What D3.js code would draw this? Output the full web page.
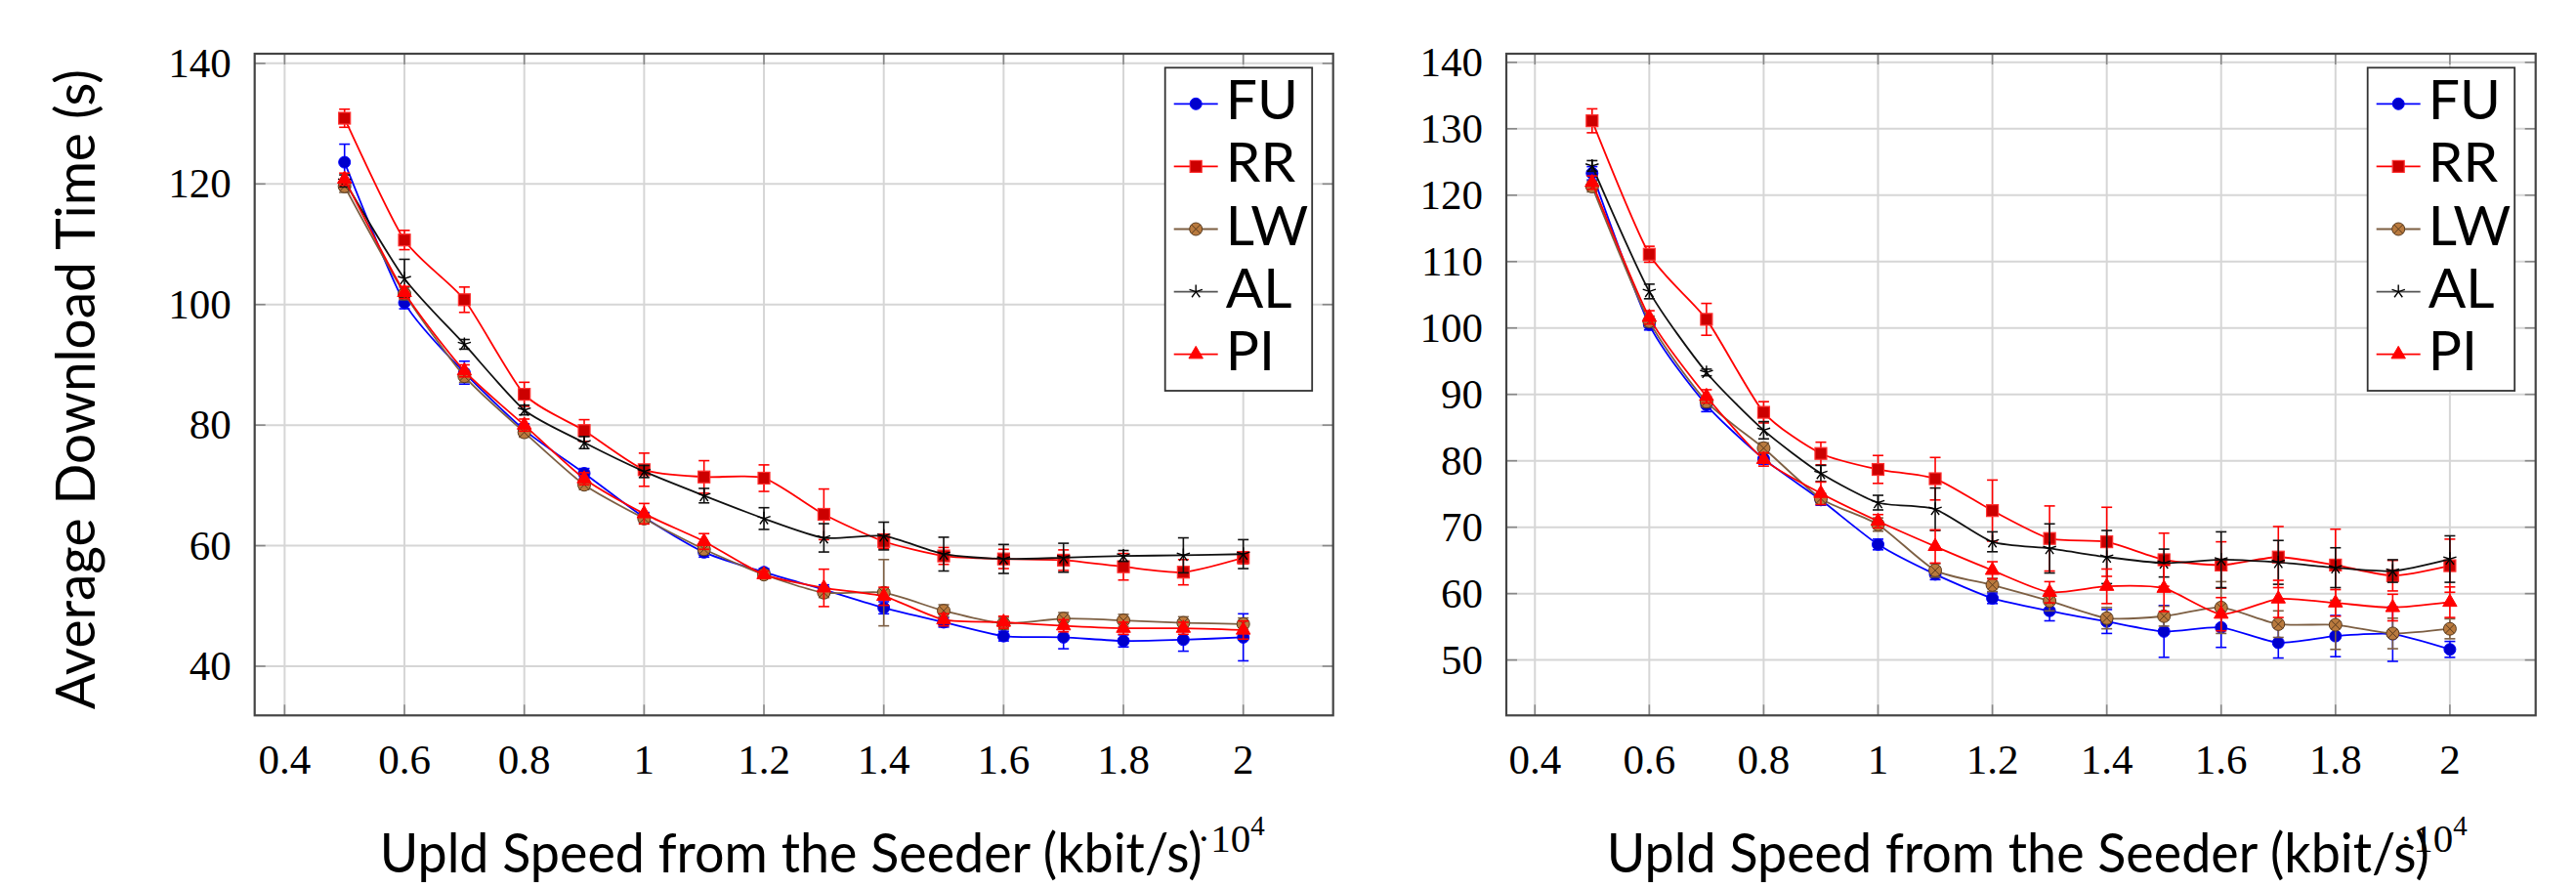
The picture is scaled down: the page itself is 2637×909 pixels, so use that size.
<!DOCTYPE html>
<html>
<head>
<meta charset="utf-8">
<script src="https://cdn.jsdelivr.net/npm/d3@7"></script>
<style>
  body { margin: 0; background: #fff; }
  svg { display: block; }
</style>
</head>
<body>
<svg id="chart" width="2637" height="909"></svg>
<script>
// upload speeds, x 10^4 kbit/s
const speeds = [0.5, 0.6, 0.7, 0.8, 0.9, 1.0, 1.1, 1.2, 1.3, 1.4, 1.5, 1.6, 1.7, 1.8, 1.9, 2.0];
const xTicks = [0.4, 0.6, 0.8, 1.0, 1.2, 1.4, 1.6, 1.8, 2.0];
const xTickLabels = ["0.4", "0.6", "0.8", "1", "1.2", "1.4", "1.6", "1.8", "2"];
const seriesNames = ["FU", "RR", "LW", "AL", "PI"];

// left panel
const leftTicks = [40, 60, 80, 100, 120, 140];
const leftFU = [123.6, 100.3, 88.7, 79.2, 72.0, 64.7, 58.9, 55.6, 52.7, 49.7, 47.3, 45.0, 44.8, 44.2, 44.4, 44.8];
const leftFUerr = [3, 1, 1.9, 1, 0.8, 0.8, 0.8, 0.6, 0.8, 1, 0.8, 0.8, 1.9, 1, 1.9, 3.9];
const leftRR = [130.9, 110.7, 100.8, 85.1, 79.1, 72.6, 71.4, 71.2, 65.2, 60.7, 58.3, 57.8, 57.6, 56.5, 55.6, 58.0];
const leftRRerr = [1.5, 1.6, 2.1, 2, 1.8, 2.75, 2.7, 2.2, 4.2, 1.2, 1.4, 1.6, 1.7, 2.2, 2.1, 1.0];
const leftLW = [119.6, 101.8, 88.1, 78.8, 70.1, 64.5, 59.4, 55.2, 52.2, 52.2, 49.2, 47.1, 47.9, 47.6, 47.2, 47.0];
const leftLWerr = [1, 1, 1, 0.8, 0.8, 0.8, 0.8, 0.6, 0.8, 5.5, 1, 1, 1, 1, 1, 1];
const leftAL = [120.5, 104.3, 93.4, 82.5, 77.1, 72.3, 68.3, 64.5, 61.3, 61.6, 58.6, 57.8, 58.0, 58.3, 58.4, 58.6];
const leftALerr = [1, 3.2, 0.8, 0.8, 1, 1, 1.2, 1.8, 2.35, 2.3, 2.8, 2.4, 2.4, 0.9, 2.9, 2.4];
const leftPI = [120.8, 102.0, 89.0, 80.0, 71.1, 65.3, 60.7, 55.2, 53.0, 51.6, 47.7, 47.3, 46.7, 46.3, 46.3, 46.0];
const leftPIerr = [1, 1, 1, 1, 1, 1.7, 1.3, 0.6, 3.1, 1.5, 1, 1, 1, 1, 1, 1.5];

// right panel
const rightTicks = [50, 60, 70, 80, 90, 100, 110, 120, 130, 140];
const rightFU = [123.3, 100.5, 88.4, 80.3, 74.1, 67.4, 62.9, 59.3, 57.4, 55.8, 54.3, 54.9, 52.6, 53.6, 53.9, 51.6];
const rightFUerr = [1, 0.8, 1, 0.8, 0.8, 0.8, 0.8, 0.8, 1.5, 1.8, 3.9, 3, 2.3, 3.1, 4.1, 1.2];
const rightRR = [131.2, 111.1, 101.3, 87.3, 81.1, 78.7, 77.3, 72.5, 68.3, 67.8, 65.1, 64.3, 65.5, 64.3, 62.7, 64.2];
const rightRRerr = [1.8, 1.2, 2.4, 1.6, 1.7, 2.1, 3.2, 4.6, 4.9, 5.2, 4, 3.5, 4.6, 5.4, 2.3, 4];
const rightLW = [121.3, 101.0, 88.9, 81.9, 74.3, 70.4, 63.5, 61.3, 58.9, 56.3, 56.6, 57.9, 55.4, 55.3, 54.0, 54.7];
const rightLWerr = [0.8, 0.8, 0.8, 0.8, 0.8, 1, 1, 1, 1.5, 1.6, 1.5, 3.9, 2, 3.7, 2.3, 1.5];
const rightAL = [124.4, 105.5, 93.3, 84.6, 78.1, 73.7, 72.7, 67.8, 66.8, 65.5, 64.6, 65.1, 64.7, 63.9, 63.4, 65.2];
const rightALerr = [0.8, 1.1, 0.5, 1.3, 1.2, 1.1, 3.2, 1.5, 3.7, 4.0, 2.1, 4.2, 3.3, 3, 1.7, 3.5];
const rightPI = [121.9, 101.6, 89.7, 80.2, 75.1, 70.9, 67.1, 63.5, 60.2, 61.1, 60.8, 56.9, 59.2, 58.6, 57.9, 58.7];
const rightPIerr = [1, 1, 1, 1, 1.7, 1, 2.5, 1.3, 1.6, 2.6, 3.5, 2.5, 2.8, 2, 2, 2.3];

const SANS = "Lato, 'Open Sans', sans-serif";
const SERIF = "'Liberation Serif', 'DejaVu Serif', serif";

const styles = {
    FU: { line: "#0000ff", fill: "#0000cc", stroke: "#0000ff", mark: "circle" },
    RR: { line: "#ff0000", fill: "#cc0000", stroke: "#ff3030", mark: "square" },
    LW: { line: "#7d5f43", fill: "#b97a3e", stroke: "#5a3b1f", mark: "otimes" },
    AL: { line: "#111111", fill: "none", stroke: "#000000", mark: "star" },
    PI: { line: "#ff0000", fill: "#ff0000", stroke: "#ff0000", mark: "triangle" }
};

function drawMark(g, type, x, y, st) {
    if (type === "circle") {
        g.append("circle").attr("cx", x).attr("cy", y).attr("r", 6)
            .attr("fill", st.fill).attr("stroke", st.stroke).attr("stroke-width", 1);
    } else if (type === "square") {
        g.append("rect").attr("x", x - 6).attr("y", y - 6).attr("width", 12).attr("height", 12)
            .attr("fill", st.fill).attr("stroke", st.stroke).attr("stroke-width", 1.2);
    } else if (type === "triangle") {
        g.append("path")
            .attr("transform", `translate(${x},${y})`)
            .attr("d", d3.symbol(d3.symbolTriangle, 90)())
            .attr("fill", st.fill).attr("stroke", st.stroke).attr("stroke-width", 1);
    } else if (type === "otimes") {
        g.append("circle").attr("cx", x).attr("cy", y).attr("r", 6.5)
            .attr("fill", st.fill).attr("stroke", st.stroke).attr("stroke-width", 1);
        const k = 4.6;
        g.append("path")
            .attr("d", `M${x - k},${y - k}L${x + k},${y + k}M${x - k},${y + k}L${x + k},${y - k}`)
            .attr("stroke", st.stroke).attr("stroke-width", 1);
    } else if (type === "star") {
        let d = "";
        for (let i = 0; i < 5; i++) {
            const a = -Math.PI / 2 + i * 2 * Math.PI / 5;
            d += `M${x},${y}L${x + 7 * Math.cos(a)},${y + 7 * Math.sin(a)}`;
        }
        g.append("path").attr("d", d).attr("stroke", st.stroke).attr("stroke-width", 1.4);
    }
}

function createPanel(svg, left, right, yDomain, yTicks, series, showYLabel) {
    const top = 55, bottom = 732.3;
    const xScale = d3.scaleLinear().domain([0.35, 2.15]).range([left, right]);
    const yScale = d3.scaleLinear().domain(yDomain).range([bottom, top]);

    const g = svg.append("g");

    // grid
    g.selectAll(".gx").data(xTicks).join("line")
        .attr("x1", d => xScale(d)).attr("x2", d => xScale(d))
        .attr("y1", top).attr("y2", bottom)
        .attr("stroke", "#d6d6d6").attr("stroke-width", 2);
    g.selectAll(".gy").data(yTicks).join("line")
        .attr("y1", d => yScale(d)).attr("y2", d => yScale(d))
        .attr("x1", left).attr("x2", right)
        .attr("stroke", "#d6d6d6").attr("stroke-width", 2);

    // inner ticks on all four sides
    const tk = g.append("g").attr("stroke", "#888").attr("stroke-width", 1.6);
    xTicks.forEach(t => {
        tk.append("line").attr("x1", xScale(t)).attr("x2", xScale(t)).attr("y1", bottom).attr("y2", bottom - 11);
        tk.append("line").attr("x1", xScale(t)).attr("x2", xScale(t)).attr("y1", top).attr("y2", top + 11);
    });
    yTicks.forEach(t => {
        tk.append("line").attr("y1", yScale(t)).attr("y2", yScale(t)).attr("x1", left).attr("x2", left + 11);
        tk.append("line").attr("y1", yScale(t)).attr("y2", yScale(t)).attr("x1", right).attr("x2", right - 11);
    });

    const line = d3.line()
        .curve(d3.curveCardinal.tension(0.35))
        .x((d, i) => xScale(speeds[i]))
        .y(d => yScale(d));

    series.forEach(s => {
        const st = styles[s.name];
        const sg = g.append("g");
        sg.append("path")
            .datum(s.values)
            .attr("fill", "none")
            .attr("stroke", st.line)
            .attr("stroke-width", 1.8)
            .attr("stroke-linejoin", "round")
            .attr("d", line);

        // error bars
        const eb = sg.append("g").attr("stroke", st.line).attr("stroke-width", 1.6);
        s.values.forEach((v, i) => {
            const x = xScale(speeds[i]);
            const y0 = yScale(v - s.err[i]), y1 = yScale(v + s.err[i]);
            eb.append("line").attr("x1", x).attr("x2", x).attr("y1", y0).attr("y2", y1);
            eb.append("line").attr("x1", x - 5.5).attr("x2", x + 5.5).attr("y1", y0).attr("y2", y0);
            eb.append("line").attr("x1", x - 5.5).attr("x2", x + 5.5).attr("y1", y1).attr("y2", y1);
        });

        s.values.forEach((v, i) => drawMark(sg, st.mark, xScale(speeds[i]), yScale(v), st));
    });

    // axis box
    g.append("rect")
        .attr("x", left).attr("y", top)
        .attr("width", right - left).attr("height", bottom - top)
        .attr("fill", "none").attr("stroke", "#444").attr("stroke-width", 2.2);

    // tick labels
    g.selectAll(".xl").data(xTicks).join("text")
        .text((d, i) => xTickLabels[i])
        .attr("x", d => xScale(d))
        .attr("y", 792)
        .attr("text-anchor", "middle")
        .attr("font-family", SERIF)
        .attr("font-size", 43);
    g.selectAll(".yl").data(yTicks).join("text")
        .text(d => d)
        .attr("x", left - 24)
        .attr("y", d => yScale(d) + 14)
        .attr("text-anchor", "end")
        .attr("font-family", SERIF)
        .attr("font-size", 43);

    // x10^4 scale label
    const sc = g.append("text")
        .attr("x", right - 70)
        .attr("y", 872)
        .attr("text-anchor", "end")
        .attr("font-family", SERIF)
        .attr("font-size", 41);
    sc.append("tspan").text("·10");
    sc.append("tspan").text("4").attr("font-size", 29).attr("dy", -17);

    g.append("text")
        .text("Upld Speed from the Seeder (kbit/s)")
        .attr("x", (left + right) / 2 - 3)
        .attr("y", 893)
        .attr("text-anchor", "middle")
        .attr("font-family", SANS)
        .attr("font-size", 56)
        .attr("textLength", 842)
        .attr("lengthAdjust", "spacingAndGlyphs");

    if (showYLabel) {
        g.append("text")
            .text("Average Download Time (s)")
            .attr("transform", `translate(97, ${(top + bottom) / 2 + 5}) rotate(-90)`)
            .attr("text-anchor", "middle")
            .attr("font-family", SANS)
            .attr("font-size", 56)
            .attr("textLength", 655)
            .attr("lengthAdjust", "spacingAndGlyphs");
    }

    // legend
    const lx = right - 172, ly = 69.3;
    const lg = g.append("g");
    lg.append("rect")
        .attr("x", lx).attr("y", ly).attr("width", 150.5).attr("height", 330.7)
        .attr("fill", "#fff").attr("stroke", "#333").attr("stroke-width", 1.8);
    seriesNames.forEach((name, i) => {
        const st = styles[name];
        const cy = ly + 37 + i * 64.1;
        lg.append("line")
            .attr("x1", lx + 9).attr("x2", lx + 54).attr("y1", cy).attr("y2", cy)
            .attr("stroke", name === "AL" ? "#555" : st.line).attr("stroke-width", 1.8);
        drawMark(lg, st.mark, lx + 31.5, cy, st);
        lg.append("text")
            .text(name)
            .attr("x", lx + 62)
            .attr("y", cy + 16)
            .attr("font-family", SANS)
            .attr("font-size", 57);
    });
}

const svg = d3.select("#chart");
svg.append("rect").attr("width", 2637).attr("height", 909).attr("fill", "#fff");

createPanel(svg, 260.7, 1364.7, [31.85, 141.6], leftTicks, [
    { name: "FU", values: leftFU, err: leftFUerr },
    { name: "RR", values: leftRR, err: leftRRerr },
    { name: "LW", values: leftLW, err: leftLWerr },
    { name: "AL", values: leftAL, err: leftALerr },
    { name: "PI", values: leftPI, err: leftPIerr }
], true);

createPanel(svg, 1542, 2595.7, [41.66, 141.3], rightTicks, [
    { name: "FU", values: rightFU, err: rightFUerr },
    { name: "RR", values: rightRR, err: rightRRerr },
    { name: "LW", values: rightLW, err: rightLWerr },
    { name: "AL", values: rightAL, err: rightALerr },
    { name: "PI", values: rightPI, err: rightPIerr }
], false);
</script>
</body>
</html>
